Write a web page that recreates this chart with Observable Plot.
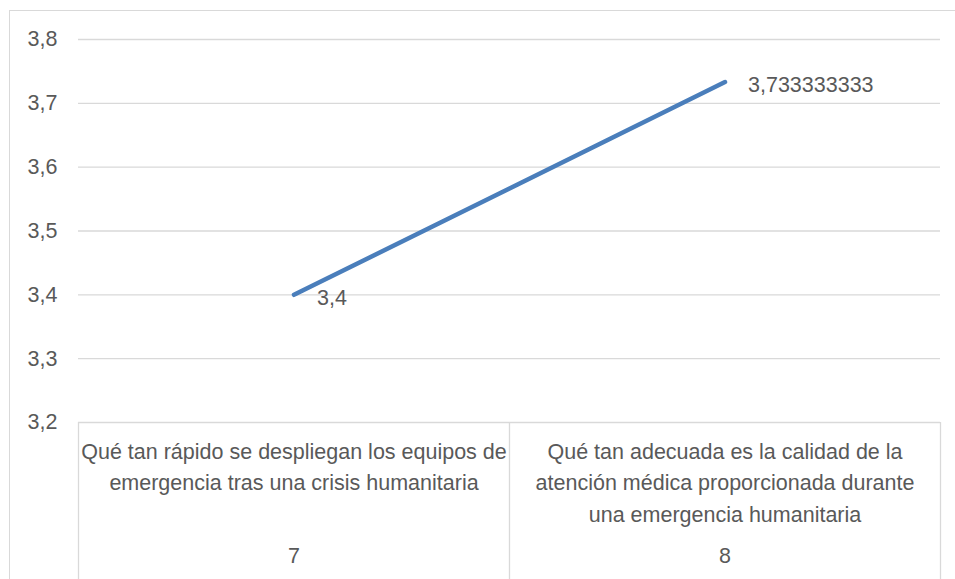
<!DOCTYPE html>
<html>
<head>
<meta charset="utf-8">
<script src="https://cdn.jsdelivr.net/npm/d3@7"></script>
<script src="https://cdn.jsdelivr.net/npm/@observablehq/plot@0.6"></script>
<style>
  html, body { margin: 0; padding: 0; background: #fff; overflow: hidden; }
  #wrap { position: relative; width: 955px; height: 579px; }
  #border { position: absolute; left: 9px; top: 10px; width: 1200px; height: 800px;
            border-left: 1.5px solid #d9d9d9; border-top: 1.5px solid #d9d9d9; box-sizing: border-box; }
  #chart { position: absolute; left: 0; top: 0; }
</style>
</head>
<body>
<div id="wrap"><div id="border"></div><div id="chart"></div></div>
<script>
const categories = [
  "Qué tan rápido se despliegan los equipos de\nemergencia tras una crisis humanitaria",
  "Qué tan adecuada es la calidad de la\natención médica proporcionada durante\nuna emergencia humanitaria"
];
const groupLabels = ["7", "8"];
const values = [3.4, 3.733333333];
const yTicks = [3.2, 3.3, 3.4, 3.5, 3.6, 3.7, 3.8];

const data = values.map((v, i) => ({pos: i + 0.5, value: v, label: String(v).replace(".", ",")}));
const centers = categories.map((_, i) => i + 0.5);
const bounds = [0, ...categories.map((_, i) => i + 1)];

const font = "'Liberation Sans', Arial, sans-serif";
const fs = 21.5;
const txt = "#595959";
const grid = "#d9d9d9";

const chart = Plot.plot({
  width: 955,
  height: 579,
  marginLeft: 78,
  marginRight: 15,
  marginTop: 39,
  marginBottom: 157,
  style: {fontFamily: font, fontSize: fs + "px", color: txt, background: "transparent"},
  x: {type: "linear", domain: [0, categories.length], axis: null},
  y: {domain: [3.2, 3.8], axis: null},
  marks: [
    Plot.gridY(yTicks, {stroke: grid, strokeOpacity: 1, strokeWidth: 1.3}),
    Plot.axisY(yTicks, {tickSize: 0, tickPadding: 21, label: null, fill: txt, fontSize: fs,
      tickFormat: d => d.toFixed(1).replace(".", ",")}),
    Plot.axisX(bounds, {tickSize: 157, tickFormat: () => "", label: null, stroke: grid, strokeOpacity: 1, strokeWidth: 1.3}),
    Plot.axisX(centers, {tickSize: 0, tickPadding: 14, label: null, fill: txt, fontSize: fs, lineHeight: 1.46,
      lineAnchor: "top", tickFormat: d => categories[Math.floor(d)]}),
    Plot.axisX(centers, {tickSize: 0, tickPadding: 125, label: null, fill: txt, fontSize: fs,
      lineAnchor: "top", tickFormat: d => groupLabels[Math.floor(d)]}),
    Plot.line(data, {x: "pos", y: "value", stroke: "#4a7ebb", strokeWidth: 4.5, strokeLinecap: "round"}),
    Plot.text(data, {x: "pos", y: "value", text: "label", dx: 23, dy: 3, textAnchor: "start", fill: txt, fontSize: fs})
  ]
});
document.getElementById("chart").appendChild(chart);
</script>
</body>
</html>
